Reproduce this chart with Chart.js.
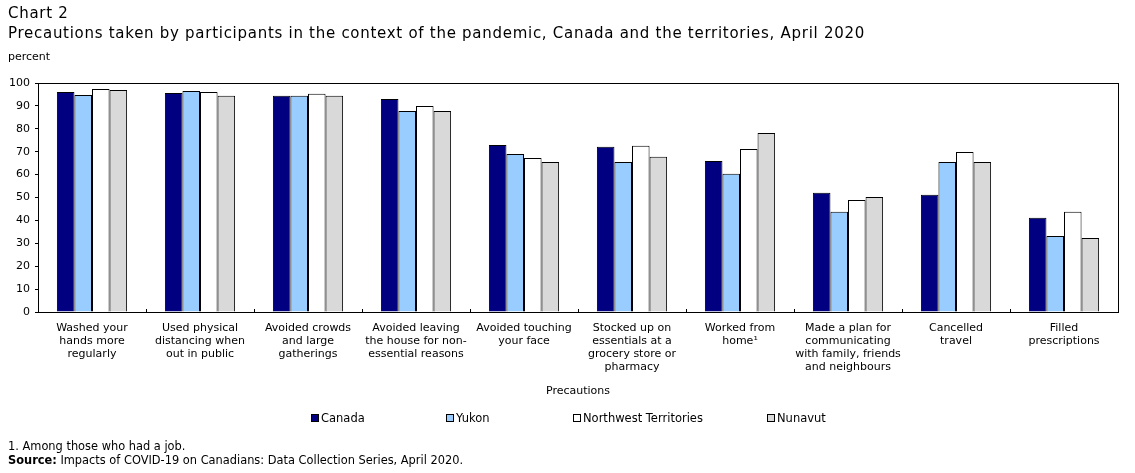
<!DOCTYPE html>
<html>
<head>
<meta charset="utf-8">
<script src="https://cdn.jsdelivr.net/npm/chart.js@4"></script>
<style>
  body { margin: 0; background: #fff; font-family: "DejaVu Sans", Verdana, sans-serif; color: #000; }
  #wrap { position: relative; width: 1135px; height: 473px; overflow: hidden; }
  #wrap canvas { position: absolute; left: 0; top: 0; }
  .txt { position: absolute; white-space: nowrap; }
  .tit { font-size: 15px; letter-spacing: 0.72px; }
  .leg { position: absolute; top: 411px; font-size: 11.5px; white-space: nowrap; }
  .leg i { display: inline-block; width: 6px; height: 6px; border: 1px solid #000; margin-right: 2px; vertical-align: 0px; }
</style>
</head>
<body>
<div id="wrap">
  <canvas id="grafico" width="1135" height="473"></canvas>
  <div class="txt tit" style="left:8px; top:4px;">Chart 2</div>
  <div class="txt tit" style="left:8px; top:24px;">Precautions taken by participants in the context of the pandemic, Canada and the territories, April 2020</div>
  <div class="txt" style="left:8px; top:50px; font-size:11px;">percent</div>
  <div class="leg" style="left:311px;"><i style="background:#000080"></i>Canada</div>
  <div class="leg" style="left:446px;"><i style="background:#99CCFF"></i>Yukon</div>
  <div class="leg" style="left:573px;"><i style="background:#FFFFFF"></i>Northwest Territories</div>
  <div class="leg" style="left:767px;"><i style="background:#D9D9D9"></i>Nunavut</div>
  <div class="txt" style="left:8px; top:439px; font-size:11.4px;">1. Among those who had a job.</div>
  <div class="txt" style="left:8px; top:453px; font-size:11.4px;"><b>Source:</b> Impacts of COVID-19 on Canadians: Data Collection Series, April 2020.</div>
</div>
<script>
// Categorias (precauções)
const categorias = [
  ["Washed your", "hands more", "regularly"],
  ["Used physical", "distancing when", "out in public"],
  ["Avoided crowds", "and large", "gatherings"],
  ["Avoided leaving", "the house for non-", "essential reasons"],
  ["Avoided touching", "your face"],
  ["Stocked up on", "essentials at a", "grocery store or", "pharmacy"],
  ["Worked from", "home\u00B9"],
  ["Made a plan for", "communicating", "with family, friends", "and neighbours"],
  ["Cancelled", "travel"],
  ["Filled", "prescriptions"]
];

// Valores (%) por região
const canada    = [96.1, 95.6, 94.4, 93.0, 72.9, 72.2, 65.9, 52.1, 51.2, 41.2];
const yukon     = [94.8, 96.5, 94.4, 87.8, 69.0, 65.5, 60.4, 43.8, 65.5, 33.2];
const nwt       = [97.4, 96.1, 95.3, 90.0, 67.2, 72.6, 71.2, 48.9, 69.9, 43.8];
const nunavut   = [96.9, 94.4, 94.4, 87.8, 65.5, 67.8, 78.2, 50.2, 65.5, 32.3];

const yTicks = [0, 10, 20, 30, 40, 50, 60, 70, 80, 90, 100];

// Moldura da área do gráfico + pequenas marcas entre as categorias
const moldura = {
  id: "moldura",
  afterDraw(chart) {
    const a = chart.chartArea;
    const c = chart.ctx;
    const x = chart.scales.x;
    c.save();
    c.strokeStyle = "#000";
    c.lineWidth = 1;
    c.strokeRect(Math.round(a.left) + 0.5, Math.round(a.top) + 0.5, Math.round(a.right - a.left), Math.round(a.bottom - a.top));
    c.beginPath();
    for (let i = 1; i < categorias.length; i++) {
      const px = Math.round((x.getPixelForTick(i - 1) + x.getPixelForTick(i)) / 2) + 0.5;
      c.moveTo(px, Math.round(a.bottom) - 3);
      c.lineTo(px, Math.round(a.bottom));
    }
    c.stroke();
    c.restore();
  }
};

function serie(label, data, cor) {
  return {
    label: label,
    data: data,
    backgroundColor: cor,
    borderColor: "#000",
    borderWidth: 1,
    borderSkipped: "bottom",
    categoryPercentage: 0.65,
    barPercentage: 1.0
  };
}

document.addEventListener("DOMContentLoaded", function () {
  const ctx = document.getElementById("grafico").getContext("2d");
  new Chart(ctx, {
    type: "bar",
    data: {
      labels: categorias,
      datasets: [
        serie("Canada", canada, "#000080"),
        serie("Yukon", yukon, "#99CCFF"),
        serie("Northwest Territories", nwt, "#FFFFFF"),
        serie("Nunavut", nunavut, "#D9D9D9")
      ]
    },
    options: {
      responsive: false,
      animation: false,
      layout: { padding: { top: 83, left: 0, right: 17, bottom: 75 } },
      plugins: { legend: { display: false }, tooltip: { enabled: false } },
      scales: {
        x: {
          grid: { display: false, drawTicks: false },
          border: { display: false },
          ticks: {
            autoSkip: false,
            maxRotation: 0,
            minRotation: 0,
            padding: 10,
            color: "#000",
            font: { family: "DejaVu Sans", size: 11, lineHeight: 1.18 }
          },
          title: {
            display: true,
            text: "Precautions",
            color: "#000",
            font: { family: "DejaVu Sans", size: 11 },
            padding: { top: 20, bottom: 0 }
          },
          afterFit(scale) { scale.height = 86; }
        },
        y: {
          min: 0,
          max: 100,
          afterBuildTicks(scale) { scale.ticks = yTicks.map(v => ({ value: v })); },
          grid: { drawOnChartArea: false, drawTicks: true, tickLength: 3, color: "#000" },
          border: { display: false },
          ticks: {
            padding: 5,
            color: "#000",
            font: { family: "DejaVu Sans", size: 11 }
          },
          afterFit(scale) { scale.width = 38; }
        }
      }
    },
    plugins: [moldura]
  });
});
</script>
</body>
</html>
